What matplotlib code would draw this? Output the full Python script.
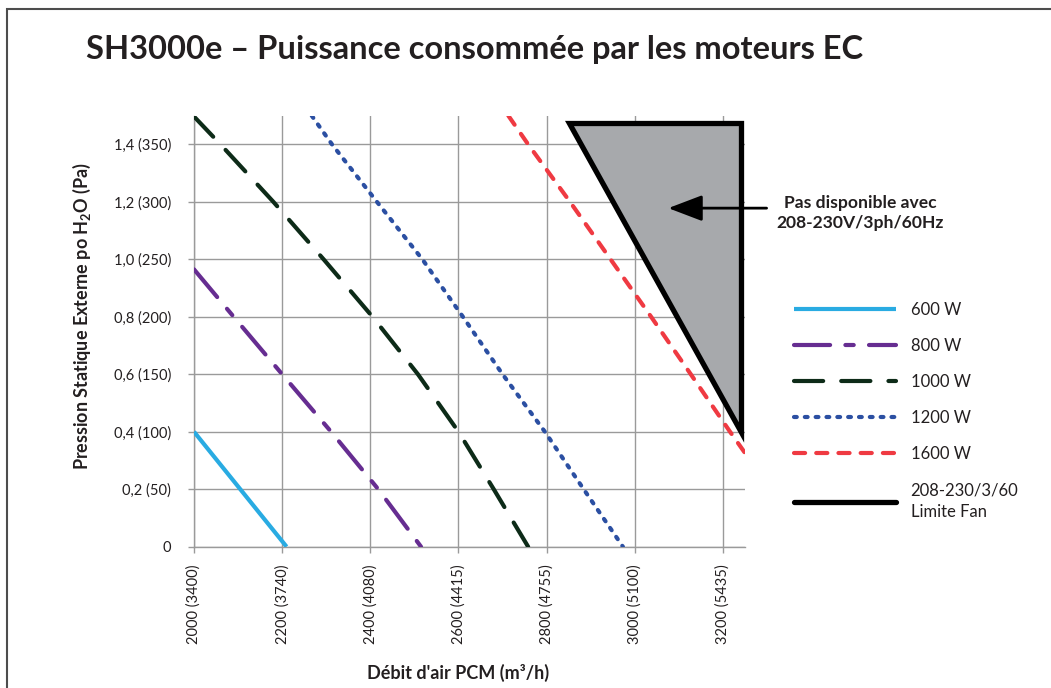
import matplotlib
matplotlib.use("Agg")
import matplotlib.pyplot as plt
from matplotlib.lines import Line2D
from matplotlib.patches import Polygon, Rectangle

plt.rcParams['font.family'] = ['Lato', 'DejaVu Sans']
plt.rcParams['mathtext.default'] = 'regular'
plt.rcParams['lines.scale_dashes'] = False

# figure size in pixels (dpi 100)
W, H = 1051, 688
TXT = '#231f20'
GRID = '#9a9a9a'

title = "SH3000e – Puissance consommée par les moteurs EC"

# debit d'air (PCM) / pression statique (po H2O)
flow_600 = [2000, 2210]
pres_600 = [0.40, 0.0]

flow_800 = [2000, 2090, 2200, 2311, 2418, 2515]
pres_800 = [0.965, 0.80, 0.60, 0.40, 0.20, 0.0]

flow_1000 = [1998, 2060, 2180, 2294, 2405, 2508, 2600, 2680, 2758]
pres_1000 = [1.5, 1.4, 1.2, 1.0, 0.8, 0.6, 0.4, 0.2, 0.0]

flow_1200 = [2267, 2313, 2415, 2518, 2610, 2700, 2796, 2884, 2973]
pres_1200 = [1.5, 1.4, 1.2, 1.0, 0.8, 0.6, 0.4, 0.2, 0.0]

flow_1600 = [2713, 2758, 2853, 2945, 3037, 3127, 3216, 3262]
pres_1600 = [1.5, 1.4, 1.2, 1.0, 0.8, 0.6, 0.4, 0.30]

# zone non disponible (208-230/3/60 limite fan)
limit_flow = [2850, 3242, 3242, 2850]
limit_pres = [1.475, 1.475, 0.40, 1.475]

x_ticks = [2000, 2200, 2400, 2600, 2800, 3000, 3200]
x_labels = ['2000 (3400)', '2200 (3740)', '2400 (4080)', '2600 (4415)',
            '2800 (4755)', '3000 (5100)', '3200 (5435)']
y_ticks = [0, 0.2, 0.4, 0.6, 0.8, 1.0, 1.2, 1.4]
y_labels = ['0', '0,2 (50)', '0,4 (100)', '0,6 (150)', '0,8 (200)',
            '1,0 (250)', '1,2 (300)', '1,4 (350)']

series_labels = ['600 W', '800 W', '1000 W', '1200 W', '1600 W',
                 '208-230/3/60\nLimite Fan']

styles = [
    dict(color='#29abe2', lw=3, ls='-', solid_capstyle='butt'),
    dict(color='#662d91', lw=3, dashes=(26, 11, 6, 11), dash_capstyle='round'),
    dict(color='#0d2b18', lw=3, dashes=(21, 13), dash_capstyle='round'),
    dict(color='#2b4fa2', lw=3, dashes=(2, 5.8), dash_capstyle='round'),
    dict(color='#ef3a42', lw=3, dashes=(8, 8), dash_capstyle='round'),
    dict(color='black', lw=3.8, ls='-', solid_capstyle='round'),
]

fig = plt.figure(figsize=(W / 100, H / 100), dpi=100)
ax = fig.add_axes([194 / W, 1 - 546.7 / H, 551 / W, 431.1 / H])

curves = [(flow_600, pres_600), (flow_800, pres_800), (flow_1000, pres_1000),
          (flow_1200, pres_1200)]
for (fx, py), st in zip(curves, styles[:4]):
    ax.plot(fx, py, zorder=3, **st)

tri = Polygon(list(zip(limit_flow, limit_pres)), closed=True, fc='#a7a9ac',
              ec='black', lw=3.8, joinstyle='miter', zorder=4, clip_on=False)
ax.add_patch(tri)
ax.plot(flow_1600, pres_1600, zorder=5, **styles[4])

ax.set_xlim(2000, 3250)
ax.set_ylim(0, 1.5)
ax.set_xticks(x_ticks)
ax.set_xticklabels(x_labels)
ax.set_yticks(y_ticks)
ax.set_yticklabels(y_labels)
ax.tick_params(axis='both', length=4.5, width=1, color=GRID, labelsize=10.5,
               labelcolor=TXT)
ax.tick_params(axis='y', pad=12)
ax.tick_params(axis='x', pad=8, labelrotation=90)
ax.grid(True, color=GRID, lw=1)
ax.set_axisbelow(True)
for s in ['top', 'right']:
    ax.spines[s].set_visible(False)
for s in ['left', 'bottom']:
    ax.spines[s].set_color(GRID)
    ax.spines[s].set_linewidth(1)

ax.set_ylabel("Pression Statique Externe po H$_2$O (Pa)", fontsize=13,
              fontweight='bold', color=TXT)
ax.yaxis.set_label_coords(-0.183, 0.535)
ax.set_xlabel("Débit d'air PCM (m³/h)", fontsize=13, fontweight='bold',
              color=TXT)
ax.xaxis.set_label_coords(0.479, -0.272)

# arrow + note
ax.annotate('', xy=(3076, 1.178), xytext=(3299, 1.178), annotation_clip=False,
            zorder=7,
            arrowprops=dict(arrowstyle='-|>,head_length=2.1,head_width=0.8',
                            mutation_scale=10, color='black', lw=2,
                            shrinkA=0, shrinkB=0))
fig.text(860 / W, 1 - 213 / H, "Pas disponible avec\n208-230V/3ph/60Hz",
         ha='center', va='center', fontsize=12.6, fontweight='bold',
         linespacing=1.35, color=TXT)

handles = [Line2D([], [], **st) for st in styles]
leg = fig.legend(handles, series_labels, loc='upper left',
                 bbox_to_anchor=(794 / W, 1 - 302 / H), frameon=False,
                 fontsize=12, handlelength=6.1, handletextpad=0.9,
                 labelspacing=1.2, borderpad=0, borderaxespad=0,
                 labelcolor=TXT)
leg.get_texts()[-1].set_linespacing(1.45)

fig.text(86 / W, 1 - 50 / H, title, fontsize=23.5, fontweight='bold',
         ha='left', va='center', color=TXT)

fig.add_artist(Rectangle((7 / W, -0.05), 1.2, 1.05 - 9 / H,
                         transform=fig.transFigure, fill=False,
                         ec='#4d4d4d', lw=1.5))

fig.savefig('out.png', dpi=100)
